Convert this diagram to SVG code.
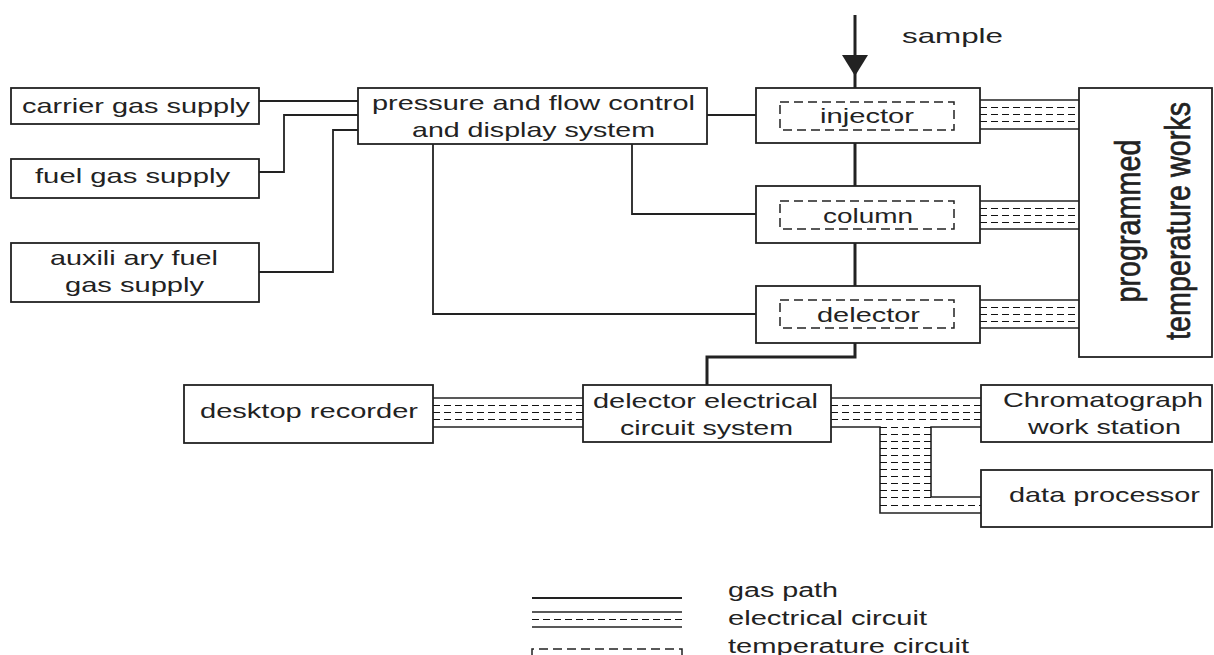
<svg xmlns="http://www.w3.org/2000/svg" width="1214" height="655" viewBox="0 0 1214 655">
<style>
.box{fill:#fff;stroke:#222;stroke-width:1.8}
.tc{fill:none;stroke:#222;stroke-width:1.5;stroke-dasharray:9 5}
.gas{fill:none;stroke:#222;stroke-width:1.8}
.main{fill:none;stroke:#222;stroke-width:3}
.es{fill:none;stroke:#222;stroke-width:1.6}
.ed{fill:none;stroke:#111;stroke-width:1;stroke-dasharray:7 4}
text{font-family:"Liberation Sans",Arial,sans-serif;font-size:21px;fill:#222}
.lg{font-size:20px}
.big{font-size:35px;stroke:#222;stroke-width:0.7}
</style>
<rect width="1214" height="655" fill="#fff"/>
<g id="connectors">
<line class="gas" x1="259" y1="101" x2="358" y2="101"/>
<polyline class="gas" points="259,172 284,172 284,115 358,115"/>
<polyline class="gas" points="259,272 333,272 333,130 358,130"/>
<line class="gas" x1="707" y1="115" x2="756" y2="115"/>
<polyline class="gas" points="632,144 632,214 756,214"/>
<polyline class="gas" points="433,144 433,314 756,314"/>
<line class="main" x1="855" y1="15" x2="855" y2="88"/>
<polygon points="842,55 868,55 855,76" fill="#222"/>
<line class="main" x1="855" y1="143" x2="855" y2="186"/>
<line class="main" x1="855" y1="243" x2="855" y2="286"/>
<polyline class="main" points="855,343 855,357 707,357 707,385"/>
<g>
<line class="es" x1="980" y1="100" x2="1079" y2="100"/>
<line class="es" x1="980" y1="129" x2="1079" y2="129"/>
<line class="ed" x1="980" y1="107.5" x2="1079" y2="107.5"/>
<line class="ed" x1="980" y1="114.5" x2="1079" y2="114.5"/>
<line class="ed" x1="980" y1="121.5" x2="1079" y2="121.5"/>
</g>
<g>
<line class="es" x1="980" y1="201" x2="1079" y2="201"/>
<line class="es" x1="980" y1="229" x2="1079" y2="229"/>
<line class="ed" x1="980" y1="208.5" x2="1079" y2="208.5"/>
<line class="ed" x1="980" y1="215.5" x2="1079" y2="215.5"/>
<line class="ed" x1="980" y1="222.5" x2="1079" y2="222.5"/>
</g>
<g>
<line class="es" x1="980" y1="300" x2="1079" y2="300"/>
<line class="es" x1="980" y1="328" x2="1079" y2="328"/>
<line class="ed" x1="980" y1="307.5" x2="1079" y2="307.5"/>
<line class="ed" x1="980" y1="314.5" x2="1079" y2="314.5"/>
<line class="ed" x1="980" y1="321.5" x2="1079" y2="321.5"/>
</g>
<g>
<line class="es" x1="433" y1="398" x2="583" y2="398"/>
<line class="es" x1="433" y1="427" x2="583" y2="427"/>
<line class="ed" x1="433" y1="405.5" x2="583" y2="405.5"/>
<line class="ed" x1="433" y1="412.5" x2="583" y2="412.5"/>
<line class="ed" x1="433" y1="419.5" x2="583" y2="419.5"/>
</g>
<g>
<line class="es" x1="831" y1="398" x2="981" y2="398"/>
<polyline class="es" points="831,427 880,427 880,513 981,513"/>
<polyline class="es" points="981,427 931,427 931,497 981,497"/>
<line class="ed" x1="831" y1="405.5" x2="981" y2="405.5"/>
<line class="ed" x1="831" y1="412.5" x2="981" y2="412.5"/>
<line class="ed" x1="831" y1="419.5" x2="981" y2="419.5"/>
<line class="ed" x1="880" y1="427.5" x2="931" y2="427.5"/>
<line class="ed" x1="880" y1="434.5" x2="931" y2="434.5"/>
<line class="ed" x1="880" y1="441.5" x2="931" y2="441.5"/>
<line class="ed" x1="880" y1="448.5" x2="931" y2="448.5"/>
<line class="ed" x1="880" y1="455.5" x2="931" y2="455.5"/>
<line class="ed" x1="880" y1="462.5" x2="931" y2="462.5"/>
<line class="ed" x1="880" y1="469.5" x2="931" y2="469.5"/>
<line class="ed" x1="880" y1="476.5" x2="931" y2="476.5"/>
<line class="ed" x1="880" y1="483.5" x2="931" y2="483.5"/>
<line class="ed" x1="880" y1="490.5" x2="931" y2="490.5"/>
<line class="ed" x1="880" y1="497.5" x2="931" y2="497.5"/>
<line class="ed" x1="880" y1="505.5" x2="981" y2="505.5"/>
</g>
</g>
<g id="carrier"><rect class="box" x="11" y="88" width="248" height="36"/><text x="22" y="113" textLength="228" lengthAdjust="spacingAndGlyphs">carrier gas supply</text></g>
<g id="fuel"><rect class="box" x="11" y="159" width="248" height="39"/><text x="35" y="183" textLength="195" lengthAdjust="spacingAndGlyphs">fuel gas supply</text></g>
<g id="aux"><rect class="box" x="11" y="243" width="248" height="59"/><text x="50" y="265" textLength="168" lengthAdjust="spacingAndGlyphs">auxili ary fuel</text><text x="65" y="292" textLength="139" lengthAdjust="spacingAndGlyphs">gas supply</text></g>
<g id="pressure"><rect class="box" x="358" y="88" width="349" height="56"/><text x="372" y="110" textLength="323" lengthAdjust="spacingAndGlyphs">pressure and flow control</text><text x="412" y="137" textLength="243" lengthAdjust="spacingAndGlyphs">and display system</text></g>
<g id="injector"><rect class="box" x="756" y="88" width="224" height="55"/><rect class="tc" x="780" y="102" width="174" height="28"/><text x="820" y="123" textLength="94" lengthAdjust="spacingAndGlyphs">injector</text></g>
<g id="column"><rect class="box" x="756" y="186" width="224" height="57"/><rect class="tc" x="780" y="201" width="174" height="28"/><text x="823" y="223" textLength="90" lengthAdjust="spacingAndGlyphs">column</text></g>
<g id="delector"><rect class="box" x="756" y="286" width="224" height="57"/><rect class="tc" x="780" y="300" width="174" height="28"/><text x="817" y="322" textLength="103" lengthAdjust="spacingAndGlyphs">delector</text></g>
<g id="sample"><text x="902" y="43" textLength="101" lengthAdjust="spacingAndGlyphs">sample</text></g>
<g id="ptw"><rect class="box" x="1079" y="88" width="133" height="269"/>
<text class="big" transform="translate(1140,221) rotate(-90)" text-anchor="middle" textLength="163" lengthAdjust="spacingAndGlyphs">programmed</text>
<text class="big" transform="translate(1190,221) rotate(-90)" text-anchor="middle" textLength="238" lengthAdjust="spacingAndGlyphs">temperature works</text></g>
<g id="recorder"><rect class="box" x="184" y="385" width="249" height="58"/><text x="200" y="418" textLength="218" lengthAdjust="spacingAndGlyphs">desktop recorder</text></g>
<g id="dec"><rect class="box" x="583" y="385" width="248" height="57"/><text x="593" y="408" textLength="225" lengthAdjust="spacingAndGlyphs">delector electrical</text><text x="620" y="435" textLength="173" lengthAdjust="spacingAndGlyphs">circuit system</text></g>
<g id="chrom"><rect class="box" x="981" y="385" width="231" height="57"/><text x="1003" y="407" textLength="200" lengthAdjust="spacingAndGlyphs">Chromatograph</text><text x="1028" y="434" textLength="153" lengthAdjust="spacingAndGlyphs">work station</text></g>
<g id="dataproc"><rect class="box" x="981" y="470" width="231" height="57"/><text x="1009" y="502" textLength="191" lengthAdjust="spacingAndGlyphs">data processor</text></g>
<g id="legend">
<line class="gas" x1="532" y1="598" x2="682" y2="598"/>
<line class="es" x1="532" y1="612" x2="682" y2="612"/>
<line class="ed" x1="532" y1="619.5" x2="682" y2="619.5"/>
<line class="es" x1="532" y1="627" x2="682" y2="627"/>
<path class="tc" d="M532,656 V649 H682 V656"/>
<text class="lg" x="728" y="597" textLength="110" lengthAdjust="spacingAndGlyphs">gas path</text>
<text class="lg" x="728" y="625" textLength="199" lengthAdjust="spacingAndGlyphs">electrical circuit</text>
<text class="lg" x="728" y="653" textLength="241" lengthAdjust="spacingAndGlyphs">temperature circuit</text>
</g>
</svg>
